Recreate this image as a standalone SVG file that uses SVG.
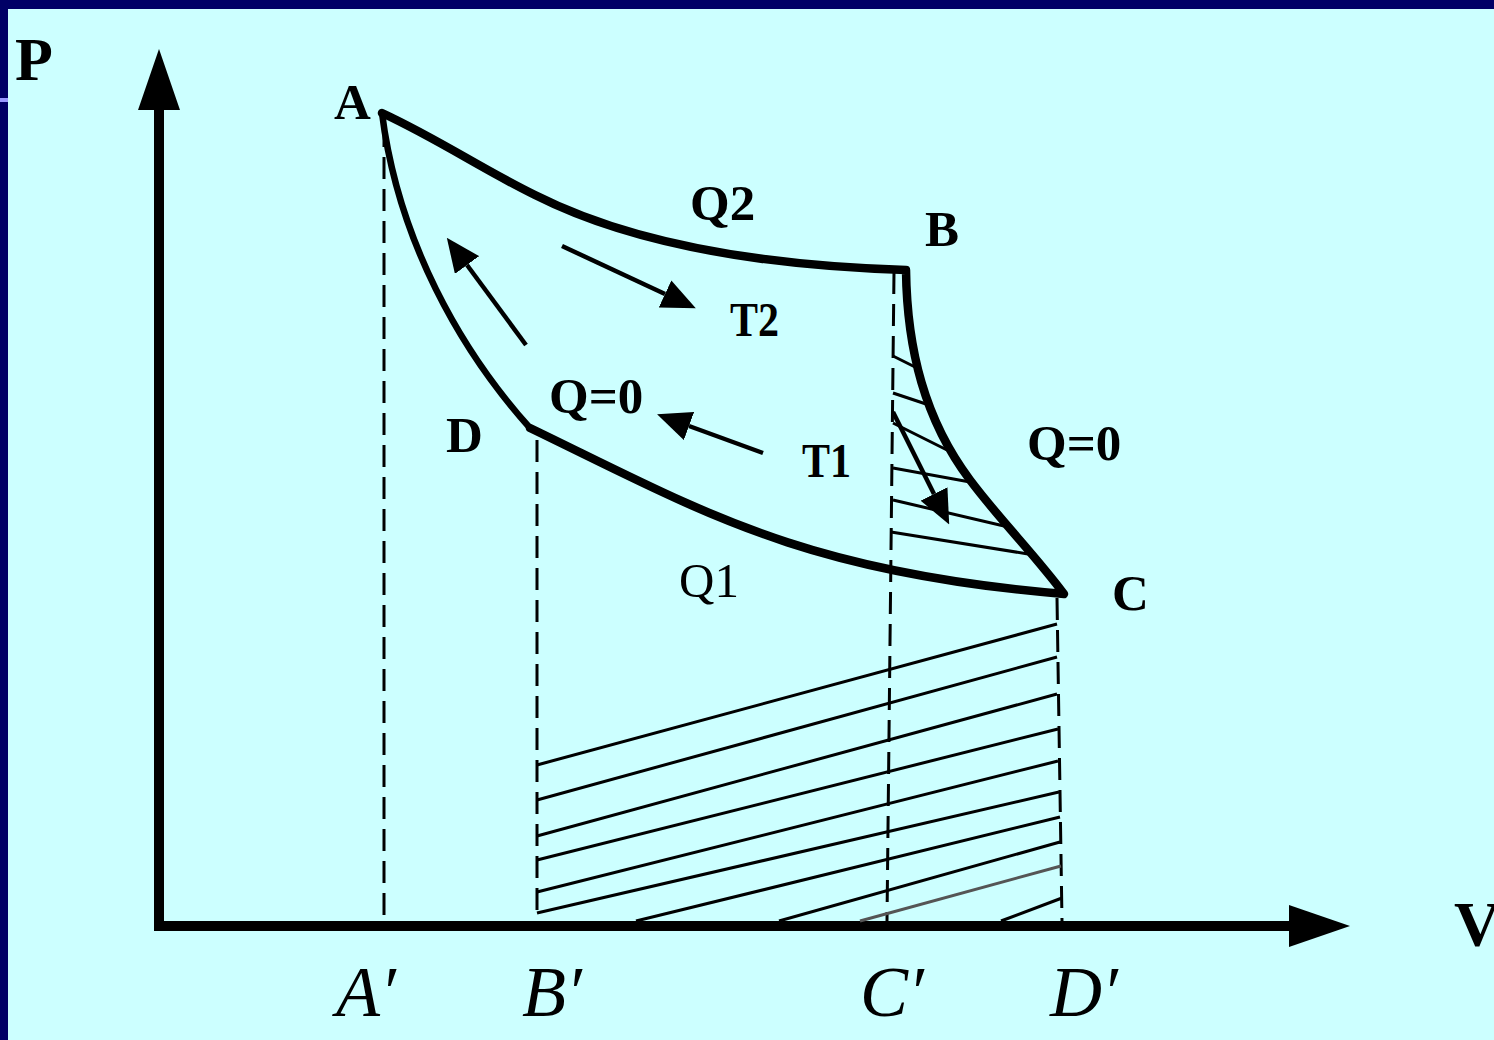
<svg xmlns="http://www.w3.org/2000/svg" width="1494" height="1040" viewBox="0 0 1494 1040">
<style>
.bg{fill:#CCFFFF}
.nv{fill:#000066}
.ax{stroke:#000;stroke-width:10;fill:none}
.cyc{stroke:#000;stroke-width:8.5;fill:none;stroke-linejoin:round;stroke-linecap:round}
.cyc2{stroke:#000;stroke-width:6.5;fill:none;stroke-linejoin:round;stroke-linecap:round}
.dash{stroke:#000;stroke-width:3;fill:none;stroke-dasharray:22 10}
.hat{stroke:#000;stroke-width:3;fill:none}
.hatg{stroke:#555;stroke-width:3;fill:none}
.arr{stroke:#000;stroke-width:4.5;fill:none}
.lb{font-family:"Liberation Serif","Times New Roman",serif;font-weight:bold;fill:#000}
.rg{font-family:"Liberation Serif","Times New Roman",serif;fill:#000}
.it{font-family:"Liberation Serif","Times New Roman",serif;font-style:italic;fill:#000;font-size:72px}
</style>
<defs>
<marker id="ah" markerUnits="userSpaceOnUse" markerWidth="34" markerHeight="30" viewBox="0 0 34 30" refX="0" refY="15" orient="auto"><path d="M0,0 L34,15 L0,30 Z" fill="#000"/></marker>
<marker id="axh" markerUnits="userSpaceOnUse" markerWidth="61" markerHeight="42" viewBox="0 0 61 42" refX="0" refY="21" orient="auto"><path d="M0,0 L61,21 L0,42 Z" fill="#000"/></marker>
</defs>
<rect class="bg" x="0" y="0" width="1494" height="1040"/>
<rect class="nv" x="0" y="0" width="1494" height="9"/>
<rect class="nv" x="0" y="0" width="8" height="1040"/>
<rect x="0" y="98" width="8" height="4" fill="#9999FF"/>

<g id="axes">
<path class="ax" d="M159,931 L159,110" marker-end="url(#axh)"/>
<path class="ax" d="M154,926 L1289,926" marker-end="url(#axh)"/>
</g>

<g id="projections">
<path class="dash" d="M384,125 L384,921"/>
<path class="dash" d="M537,440 L537,918"/>
<path class="dash" d="M894,272 L887,921"/>
<path class="dash" d="M1057,598 L1062,921"/>
</g>

<g id="hatch-bc">
<path class="hat" d="M893,356 L915,367"/>
<path class="hat" d="M893,393 L926,404"/>
<path class="hat" d="M893,423 L947,450"/>
<path class="hat" d="M893,468 L970,482"/>
<path class="hat" d="M893,500 L1004,526"/>
<path class="hat" d="M891,532 L1028,554"/>
</g>

<g id="hatch-area">
<path class="hat" d="M537,765 L1057,624"/>
<path class="hat" d="M537,800 L1057,657"/>
<path class="hat" d="M537,836 L1057,694"/>
<path class="hat" d="M537,860 L1058,729"/>
<path class="hat" d="M537,892 L1058,761"/>
<path class="hat" d="M537,913 L1059,792"/>
<path class="hat" d="M636,921 L1060,817"/>
<path class="hat" d="M779,921 L1060,842"/>
<path class="hatg" d="M860,921 L1061,866"/>
<path class="hat" d="M1001,921 L1062,898"/>
</g>

<g id="cycle">
<path class="cyc" d="M382,113 C440,140 480,168 535,195 C620,238 740,265 906,270 C907,350 925,420 970,480 C1000,520 1035,555 1064,594 C800,572 700,510 530,428"/>
<path class="cyc2" d="M530,428 C460,350 398,240 382,113"/>
</g>

<g id="connectors">
<path class="arr" d="M526,345 L467,265" marker-end="url(#ah)"/>
<path class="arr" d="M562,246 L665,294" marker-end="url(#ah)"/>
<path class="arr" d="M763,453 L689,426" marker-end="url(#ah)"/>
<path class="arr" d="M893,412 L934,494" marker-end="url(#ah)"/>
</g>

<g id="labels">
<text class="lb" x="15" y="80" font-size="62">P</text>
<text class="lb" x="1454" y="946" font-size="64">V</text>
<text class="lb" x="334" y="119" font-size="51">A</text>
<text class="lb" x="925" y="246" font-size="51">B</text>
<text class="lb" x="1112" y="610" font-size="51">C</text>
<text class="lb" x="446" y="452" font-size="51">D</text>
<text class="lb" x="690" y="220" font-size="51">Q2</text>
<text class="lb" x="549" y="413" font-size="51">Q=0</text>
<text class="lb" x="1027" y="460" font-size="51">Q=0</text>
<text class="lb" font-size="42" transform="translate(730,336) scale(1,1.15)">T2</text>
<text class="lb" font-size="42" transform="translate(802,477) scale(1,1.15)">T1</text>
<text class="rg" x="679" y="597" font-size="49">Q1</text>
<text class="it" x="336" y="1016">A′</text>
<text class="it" x="522" y="1016">B′</text>
<text class="it" x="860" y="1016">C′</text>
<text class="it" x="1050" y="1016">D′</text>
</g>
</svg>
